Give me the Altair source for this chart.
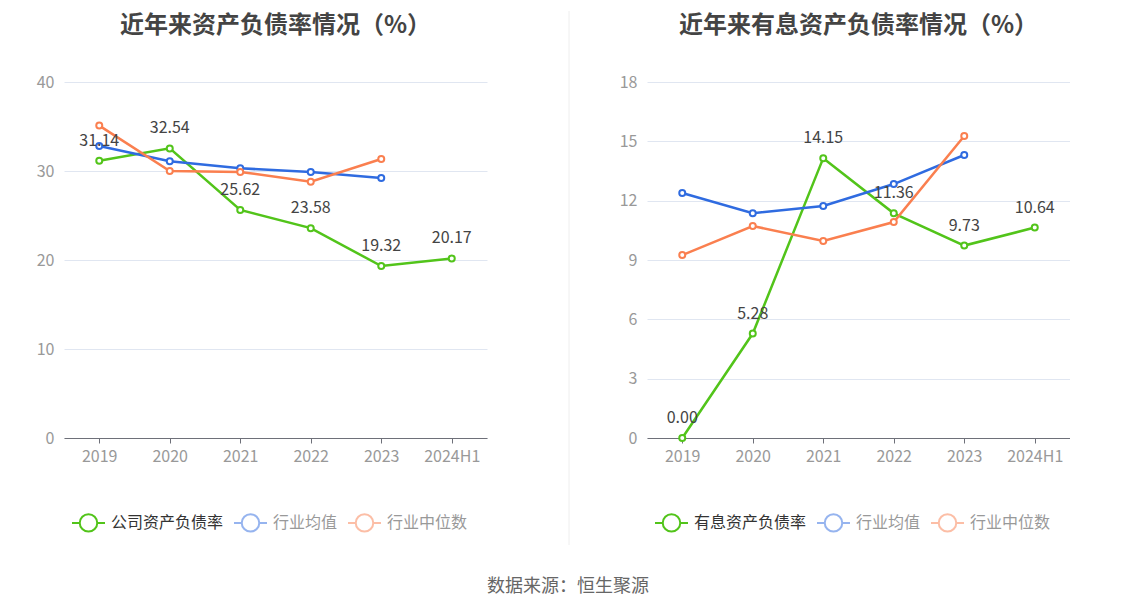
import altair as alt
import pandas as pd

FONT = "Noto Sans CJK SC"

periods = ["2019", "2020", "2021", "2022", "2023", "2024H1"]

# Left panel: 资产负债率
left_company_name = "公司资产负债率"
left_company = [31.14, 32.54, 25.62, 23.58, 19.32, 20.17]
left_avg = [32.8, 31.1, 30.3, 29.9, 29.2, None]
left_median = [35.1, 30.0, 29.9, 28.8, 31.35, None]

# Right panel: 有息资产负债率
right_company_name = "有息资产负债率"
right_company = [0.00, 5.28, 14.15, 11.36, 9.73, 10.64]
right_avg = [12.39, 11.37, 11.73, 12.84, 14.31, None]
right_median = [9.25, 10.72, 9.96, 10.92, 15.27, None]

avg_name = "行业均值"
median_name = "行业中位数"

GREEN = "#52c41a"
BLUE = "#2f6be0"
ORANGE = "#fa7f4f"

W, H = 423, 356


def make_df(company_name, company, avg, median):
    rows = []
    for name, vals in [(company_name, company), (avg_name, avg), (median_name, median)]:
        for p, v in zip(periods, vals):
            if v is not None:
                rows.append({"period": p, "series": name, "value": v,
                             "label": f"{v:.2f}"})
    return pd.DataFrame(rows)


SYMBOL = ("M-1,0L-0.53,0M0.53,0L1,0"
          "M-0.53,0A0.53,0.53 0 1,1 0.53,0A0.53,0.53 0 1,1 -0.53,0Z")


def panel(title, company_name, company, avg, median, ymax, ystep):
    df = make_df(company_name, company, avg, median)
    domain = [company_name, avg_name, median_name]
    x = alt.X("period:N", sort=periods, title=None,
              scale=alt.Scale(type="point", padding=0.5, domain=periods),
              axis=alt.Axis(labelAngle=0, domainColor="#6e7079", tickColor="#6e7079",
                            tickSize=5, labelColor="#999999", labelFontSize=16,
                            labelPadding=5, grid=False, labelFont=FONT))
    y = alt.Y("value:Q", title=None,
              scale=alt.Scale(domain=[0, ymax], nice=False),
              axis=alt.Axis(values=list(range(0, ymax + 1, ystep)), domain=False,
                            ticks=False, labelColor="#999999", labelFontSize=16,
                            labelPadding=10, gridColor="#e0e6f1", minExtent=56,
                            maxExtent=56, labelFont=FONT))
    stroke = alt.Stroke(
        "series:N", sort=domain,
        scale=alt.Scale(domain=domain, range=[GREEN, BLUE, ORANGE]),
        legend=alt.Legend(
            title=None, orient="none", legendX=7, legendY=423,
            direction="horizontal", symbolType=SYMBOL, symbolSize=1089,
            symbolStrokeWidth=2, symbolFillColor="white",
            symbolOpacity={"expr": f"datum.value == '{company_name}' ? 1 : 0.5"},
            labelColor={"expr": f"datum.value == '{company_name}' ? '#333333' : '#999999'"},
            labelFontSize=16, labelFont=FONT, labelOffset=5, columnPadding=6,
        ),
    )
    base = alt.Chart(df)
    lines = base.mark_line(strokeWidth=2.5).encode(x=x, y=y, stroke=stroke)
    points = base.mark_point(filled=True, fill="white", strokeWidth=2, size=36,
                             opacity=1).encode(x=x, y=y, stroke=stroke)
    labels = base.transform_filter(alt.datum.series == company_name).mark_text(
        dy=-20, fontSize=16, color="#444444", font=FONT
    ).encode(x=x, y=y, text="label:N")
    return alt.layer(lines, points, labels).properties(
        width=W, height=H,
        title=alt.TitleParams(title, fontSize=24, fontWeight="bold", color="#444444",
                              font=FONT, offset=36, anchor="middle"),
    )


left = panel("近年来资产负债率情况（%）", left_company_name, left_company,
             left_avg, left_median, 40, 10)
right = panel("近年来有息资产负债率情况（%）", right_company_name, right_company,
              right_avg, right_median, 18, 3)

divider = alt.Chart(pd.DataFrame({"d": [0]})).mark_rule(
    color="#eeeeee", strokeWidth=1
).encode(x=alt.value(61), y=alt.value(-71), y2=alt.value(463)).properties(
    width=62, height=H
)

chart = alt.hconcat(left, divider, right, spacing=21).resolve_scale(
    stroke="independent", x="independent", y="independent"
).resolve_legend(stroke="independent").properties(
    padding={"top": 2, "left": 0, "right": 0, "bottom": 10},
    title=alt.TitleParams("数据来源：恒生聚源", orient="bottom", fontSize=18,
                          fontWeight="normal", color="#666666", font=FONT,
                          anchor="middle", offset=32, dx=29),
).configure(font=FONT).configure_view(stroke="transparent", strokeWidth=0)

chart.save("out.html", embed_options={"renderer": "svg", "actions": False})
